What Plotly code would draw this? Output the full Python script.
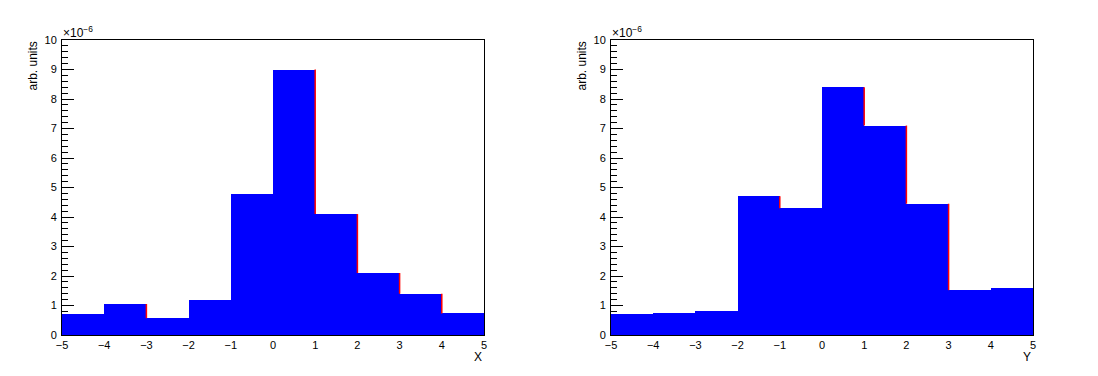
import plotly.graph_objects as go

# Bin edges (shared by both histograms)
bin_edges = [-5, -4, -3, -2, -1, 0, 1, 2, 3, 4, 5]
# Bin contents, in units of 1e-6 (arb. units)
x_hist_values = [0.72, 1.05, 0.57, 1.20, 4.78, 9.00, 4.10, 2.10, 1.40, 0.73]
y_hist_values = [0.70, 0.73, 0.80, 4.70, 4.30, 8.40, 7.10, 4.45, 1.52, 1.60]
y_tick_labels = ["0", "1", "2", "3", "4", "5", "6", "7", "8", "9", "10"]
x_tick_labels = ["\u22125", "\u22124", "\u22123", "\u22122", "\u22121", "0", "1", "2", "3", "4", "5"]
axis_titles = ["X", "Y"]

FONT = "Liberation Sans, Arial, Helvetica, sans-serif"
BLUE = "#0000ff"
RED = "#ff0000"

W, H = 1098, 376
OFF = 8  # page body margin offset

centers = [(bin_edges[i] + bin_edges[i + 1]) / 2 for i in range(len(bin_edges) - 1)]
widths = [bin_edges[i + 1] - bin_edges[i] for i in range(len(bin_edges) - 1)]

fig = go.Figure()


def px_x(p):
    return (p - OFF) / W


def px_y(p):
    return (H - (p - OFF)) / H


domains = [[px_x(62), px_x(484)], [px_x(611), px_x(1033)]]
ydom = [px_y(335), px_y(40)]

for k, vals in enumerate([x_hist_values, y_hist_values]):
    xa = "x" if k == 0 else "x2"
    ya = "y" if k == 0 else "y2"
    fig.add_trace(go.Bar(x=centers, y=vals, width=widths, marker=dict(color=BLUE, line=dict(width=0)),
                         xaxis=xa, yaxis=ya, showlegend=False, hoverinfo="skip"))
    # red outline visible on descending edges
    sx, sy = [], []
    for i in range(len(vals) - 1):
        if vals[i + 1] < vals[i]:
            e = bin_edges[i + 1]
            sx += [e, e, None]
            sy += [vals[i + 1], vals[i], None]
    fig.add_trace(go.Scatter(x=sx, y=sy, mode="lines", line=dict(color=RED, width=1.5),
                             xaxis=xa, yaxis=ya, showlegend=False, hoverinfo="skip"))

axis_common = dict(showline=True, linecolor="black", linewidth=1, mirror=True, showgrid=False,
                   zeroline=False, ticks="inside", tickcolor="black", layer="below traces",
                   automargin=False,
                   tickfont=dict(family=FONT, size=11, color="black"))

layout = dict(template="none", width=W, height=H, margin=dict(l=0, r=0, t=0, b=0, autoexpand=False),
              paper_bgcolor="white", plot_bgcolor="white", bargap=0, showlegend=False)

for k in range(2):
    sfx = "" if k == 0 else "2"
    layout["xaxis" + sfx] = dict(axis_common, domain=domains[k], range=[-5, 5],
                                 tickvals=bin_edges, ticktext=x_tick_labels, ticklen=9,
                                 minor=dict(ticks="inside", ticklen=5, dtick=0.2, tickcolor="black"),
                                 anchor="y" + sfx)
    layout["yaxis" + sfx] = dict(axis_common, domain=ydom, range=[0, 10],
                                 tickvals=list(range(11)), ticktext=y_tick_labels, ticklen=12,
                                 minor=dict(ticks="inside", ticklen=6, dtick=0.2, tickcolor="black"),
                                 anchor="x" + sfx, ticklabelstandoff=2)

fig.update_layout(**layout)

ann = []
for k in range(2):
    x0 = domains[k][0]
    x1 = domains[k][1]
    ann.append(dict(xref="paper", yref="paper", x=x0 - 30 / W, y=ydom[1], text="arb. units",
                    textangle=-90, showarrow=False, xanchor="center", yanchor="top",
                    font=dict(family=FONT, size=12, color="black")))
    ann.append(dict(xref="paper", yref="paper", x=x0 - 1 / W, y=ydom[1] - 2 / H, text="\u00d710<sup>\u22126</sup>",
                    showarrow=False, xanchor="left", yanchor="bottom",
                    font=dict(family=FONT, size=12, color="black")))
    ann.append(dict(xref="paper", yref="paper", x=x1, y=px_y(348), text=axis_titles[k],
                    showarrow=False, xanchor="right", yanchor="top",
                    font=dict(family=FONT, size=12, color="black")))
fig.update_layout(annotations=ann)

fig.write_html("out.html")
